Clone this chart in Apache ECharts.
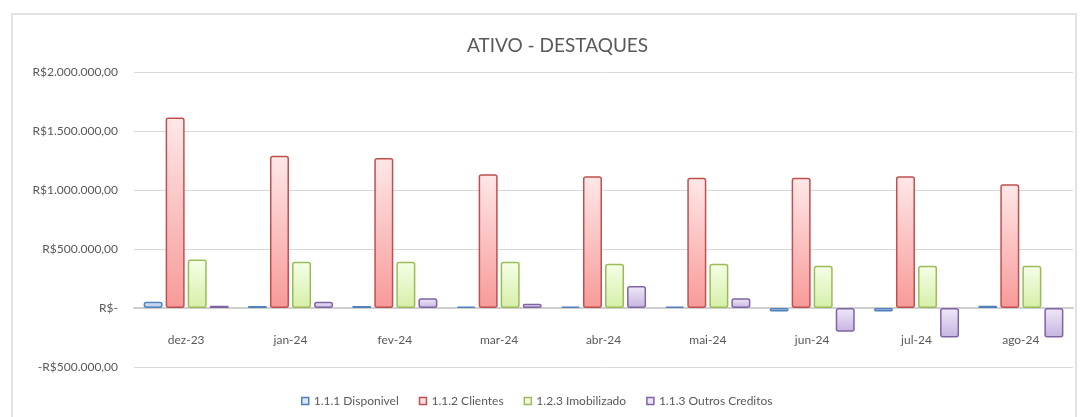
<!DOCTYPE html>
<html>
<head>
<meta charset="utf-8">
<script src="https://cdn.jsdelivr.net/npm/echarts@6/dist/echarts.min.js"></script>
<style>
  html, body { margin: 0; padding: 0; background: #fff; }
  #chart { width: 1082px; height: 417px; }
</style>
</head>
<body>
<div id="chart"></div>
<script>
// categorias (meses)
const meses = ['dez-23', 'jan-24', 'fev-24', 'mar-24', 'abr-24', 'mai-24', 'jun-24', 'jul-24', 'ago-24']

// valores
const disponivel = [52000, 17000, 17000, 12000, 12000, 12000, -30000, -30000, 20000]
const clientes = [1615000, 1290000, 1272000, 1134000, 1117000, 1103000, 1103000, 1117000, 1048000]
const imobilizado = [410000, 393000, 393000, 393000, 376000, 376000, 359000, 359000, 359000]
const outrosCreditos = [20000, 52000, 83000, 35000, 186000, 83000, -202000, -250000, -250000]

// escala do eixo y
const yMin = -500000
const yMax = 2000000
const yStep = 500000

const chart = echarts.init(document.getElementById('chart'))

// formato R$ estilo Excel
const formatBRL = (v) => {
  if (v === 0) return 'R$-'
  const neg = v < 0
  const s = Math.abs(v).toString().replace(/\B(?=(\d{3})+(?!\d))/g, '.')
  return (neg ? '-' : '') + 'R$' + s + ',00'
}

const grad = (top, bottom) => new echarts.graphic.LinearGradient(0, 0, 0, 1, [
  { offset: 0, color: top },
  { offset: 1, color: bottom }
])

const makeSeries = (name, data, border, top, bottom) => ({
  name,
  type: 'bar',
  data,
  barWidth: 19,
  barGap: '16%',
  itemStyle: {
    color: grad(top, bottom),
    borderColor: border,
    borderWidth: 1.5,
    borderRadius: 2
  }
})

const fontFamily = 'Lato, "Open Sans", sans-serif'

// altura do grid e deslocamento do eixo x até o zero
const gridTop = 72
const gridBottom = 50
const plotH = 417 - gridTop - gridBottom
const zeroOffset = -plotH * (0 - yMin) / (yMax - yMin)

const option = {
  animation: false,
  textStyle: { fontFamily },
  title: {
    text: 'ATIVO - DESTAQUES',
    left: 462,
    top: 31,
    textStyle: { color: '#595959', fontSize: 19, fontWeight: 'normal', fontFamily }
  },
  legend: {
    top: 390,
    left: 296,
    itemWidth: 7,
    itemHeight: 7,
    itemGap: 20,
    icon: 'rect',
    textStyle: { color: '#595959', fontSize: 12 },
    data: [
      { name: '1.1.1 Disponivel', itemStyle: { color: '#dbe5f5', borderColor: '#4f81bd', borderWidth: 1.5 } },
      { name: '1.1.2 Clientes', itemStyle: { color: '#fde0e0', borderColor: '#c0504d', borderWidth: 1.5 } },
      { name: '1.2.3 Imobilizado', itemStyle: { color: '#f1fbe0', borderColor: '#9bbb59', borderWidth: 1.5 } },
      { name: '1.1.3 Outros Creditos', itemStyle: { color: '#ebe4f5', borderColor: '#8064a2', borderWidth: 1.5 } }
    ]
  },
  grid: {
    left: 134,
    right: 9,
    top: gridTop,
    bottom: gridBottom
  },
  xAxis: {
    type: 'category',
    data: meses,
    offset: zeroOffset,
    axisTick: { show: false },
    axisLine: { lineStyle: { color: '#cfcfcf', width: 2 } },
    axisLabel: { color: '#595959', fontSize: 12, margin: 26 }
  },
  yAxis: {
    type: 'value',
    min: yMin,
    max: yMax,
    interval: yStep,
    splitLine: { lineStyle: { color: '#d9d9d9', width: 1 } },
    axisLabel: { color: '#595959', fontSize: 12, margin: 16, formatter: formatBRL }
  },
  graphic: [{
    type: 'rect',
    shape: { x: 12, y: 14, width: 1064, height: 420 },
    style: { fill: 'none', stroke: '#d9d9d9', lineWidth: 1.5 },
    silent: true,
    z: -1
  }],
  series: [
    makeSeries('1.1.1 Disponivel', disponivel, '#4f81bd', '#e3ebf8', '#a9c1e6'),
    makeSeries('1.1.2 Clientes', clientes, '#c0504d', '#ffe8e8', '#f79a99'),
    makeSeries('1.2.3 Imobilizado', imobilizado, '#9bbb59', '#f6ffe8', '#d6efa8'),
    makeSeries('1.1.3 Outros Creditos', outrosCreditos, '#8064a2', '#efe9f8', '#c6b4e0')
  ]
}

chart.setOption(option)
</script>
</body>
</html>
